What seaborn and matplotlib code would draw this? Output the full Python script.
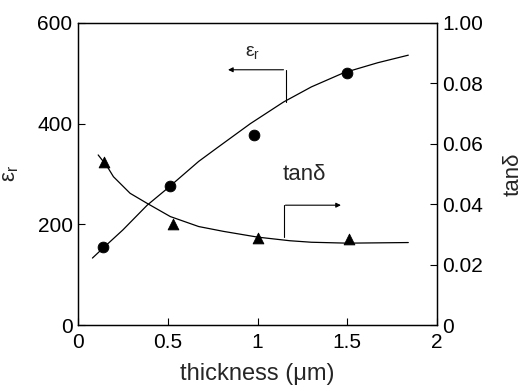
import matplotlib
matplotlib.use("Agg")
import matplotlib.pyplot as plt
import seaborn as sns
import pandas as pd

# measured points
thick_er = [0.14, 0.51, 0.98, 1.50]
er_vals = [155, 276, 377, 501]
thick_tan = [0.145, 0.53, 1.00, 1.51]
tan_vals = [0.054, 0.0334, 0.0288, 0.0285]

# fitted curves
fit_x_er = [0.08, 0.14, 0.25, 0.385, 0.50, 0.672, 0.775, 0.96, 1.145, 1.30, 1.48, 1.67, 1.84]
fit_er = [133, 153, 189, 238, 272, 325, 352, 400, 443, 473, 501, 521, 536]
fit_x_tan = [0.112, 0.162, 0.197, 0.29, 0.384, 0.514, 0.672, 0.81, 1.00, 1.18, 1.30, 1.50, 1.84]
fit_tan = [0.0563, 0.0525, 0.0491, 0.0436, 0.0403, 0.0359, 0.0326, 0.0310, 0.0291, 0.0279, 0.0274, 0.0271, 0.0273]

x_ticks = [0, 0.5, 1, 1.5, 2]
x_ticklabels = ["0", "0.5", "1", "1.5", "2"]
left_ticks = [0, 200, 400, 600]
right_ticks = [0, 0.02, 0.04, 0.06, 0.08, 0.10]
right_ticklabels = ["0", "0.02", "0.04", "0.06", "0.08", "1.00"]

sns.set_style("ticks")
plt.rcParams["font.family"] = ["Liberation Sans", "DejaVu Sans"]
plt.rcParams["xtick.direction"] = "in"
plt.rcParams["ytick.direction"] = "in"

fig = plt.figure(figsize=(5.24, 3.89), dpi=100)
ax = fig.add_axes([0.149, 0.1645, 0.685, 0.7765])
ax2 = ax.twinx()

df_er = pd.DataFrame({"x": thick_er, "y": er_vals})
df_fer = pd.DataFrame({"x": fit_x_er, "y": fit_er})
df_tan = pd.DataFrame({"x": thick_tan, "y": tan_vals})
df_ftan = pd.DataFrame({"x": fit_x_tan, "y": fit_tan})

sns.lineplot(data=df_fer, x="x", y="y", ax=ax, color="black", lw=0.9, sort=True)
sns.scatterplot(data=df_er, x="x", y="y", ax=ax, color="black", marker="o", s=60, edgecolor="black", zorder=3)
sns.lineplot(data=df_ftan, x="x", y="y", ax=ax2, color="black", lw=0.9, sort=True)
sns.scatterplot(data=df_tan, x="x", y="y", ax=ax2, color="black", marker="^", s=60, edgecolor="black", zorder=3)

ax.set_xlim(0, 2)
ax.set_ylim(0, 600)
ax2.set_ylim(0, 0.10)
ax.set_xticks(x_ticks)
ax.set_xticklabels(x_ticklabels)
ax.set_yticks(left_ticks)
ax2.set_yticks(right_ticks)
ax2.set_yticklabels(right_ticklabels)

for a in (ax, ax2):
    a.tick_params(labelsize=15, length=5, width=0.8, colors="black")
    for s in a.spines.values():
        s.set_linewidth(0.9)
        s.set_color("black")
ax.tick_params(axis="x", pad=6)
ax.tick_params(axis="y", pad=4)
ax2.tick_params(axis="y", pad=4)

ax.set_xlabel("thickness (μm)", fontsize=17, labelpad=8)
ax.set_ylabel("ε$_\\mathregular{r}$", fontsize=16, labelpad=12)
ax2.set_ylabel("tanδ", fontsize=16, labelpad=14)

# annotations
ax.text(0.97, 540, "ε$_\\mathregular{r}$", fontsize=14, ha="center", va="center")
ax.plot([1.156, 1.156], [443, 507], color="black", lw=0.8)
ax.annotate("", xy=(0.82, 507), xytext=(1.16, 507),
            arrowprops=dict(arrowstyle="-|>", color="black", lw=0.8, mutation_scale=7))
ax.text(1.26, 298, "tanδ", fontsize=16, ha="center", va="center")
ax.plot([1.145, 1.145], [175, 238], color="black", lw=0.8)
ax.annotate("", xy=(1.48, 238), xytext=(1.14, 238),
            arrowprops=dict(arrowstyle="-|>", color="black", lw=0.8, mutation_scale=7))

fig.savefig("out.png", dpi=100)
